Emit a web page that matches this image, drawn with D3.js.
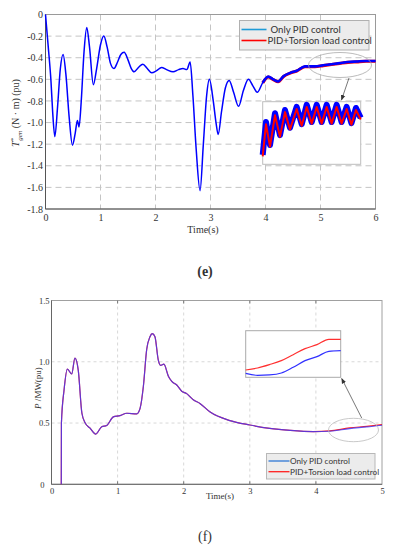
<!DOCTYPE html>
<html>
<head>
<meta charset="utf-8">
<script src="https://cdn.jsdelivr.net/npm/d3@7"></script>
<style>
    body{ margin:0; background:#fff; }
    svg text{ fill:#333; }
</style>
</head>
<body>
<svg id="chart" width="396" height="550"></svg>
<script>
// (e) torque of generator
var tE = [0, 0.05, 0.1, 0.13, 0.17, 0.22, 0.27, 0.32, 0.37, 0.43, 0.49, 0.54, 0.58, 0.61, 0.65, 0.7, 0.75, 0.8, 0.87, 0.93,
          1.0, 1.06, 1.12, 1.18, 1.245, 1.31, 1.37, 1.43, 1.5, 1.56, 1.61, 1.69, 1.77, 1.85, 1.93, 2.02, 2.11, 2.2, 2.32, 2.42,
          2.5, 2.57, 2.63, 2.68, 2.74, 2.81, 2.87, 2.93, 2.98, 3.05, 3.1, 3.14, 3.2, 3.27, 3.34, 3.42, 3.51, 3.6, 3.69, 3.77,
          3.85, 3.95, 4.05, 4.14, 4.23, 4.33, 4.45, 4.57, 4.72, 4.9, 5.05, 5.2, 5.35, 5.5, 5.66, 5.83, 6.0];
var eOnlyPid = [0, -0.30, -0.62, -0.90, -1.13, -0.85, -0.50, -0.37, -0.55, -0.95, -1.21, -1.10, -0.98, -1.04, -0.80, -0.35, -0.12, -0.30, -0.65, -0.50,
          -0.28, -0.20, -0.30, -0.45, -0.50, -0.44, -0.37, -0.35, -0.42, -0.50, -0.53, -0.49, -0.46, -0.50, -0.54, -0.52, -0.49, -0.51, -0.53, -0.51,
          -0.50, -0.51, -0.44, -0.75, -1.25, -1.63, -1.20, -0.75, -0.60, -0.80, -1.00, -1.11, -0.90, -0.68, -0.61, -0.72, -0.85, -0.70, -0.60, -0.66,
          -0.72, -0.63, -0.575, -0.60, -0.62, -0.57, -0.54, -0.52, -0.48, -0.48, -0.47, -0.46, -0.45, -0.44, -0.435, -0.43, -0.43];
var eTorsion = [0, -0.30, -0.62, -0.90, -1.13, -0.85, -0.50, -0.37, -0.55, -0.95, -1.21, -1.10, -0.98, -1.04, -0.80, -0.35, -0.12, -0.30, -0.65, -0.50,
          -0.28, -0.20, -0.30, -0.45, -0.50, -0.44, -0.37, -0.35, -0.42, -0.50, -0.53, -0.49, -0.46, -0.50, -0.54, -0.52, -0.49, -0.51, -0.53, -0.51,
          -0.50, -0.51, -0.44, -0.75, -1.25, -1.63, -1.20, -0.75, -0.60, -0.80, -1.00, -1.11, -0.90, -0.68, -0.61, -0.72, -0.85, -0.70, -0.60, -0.66,
          -0.723, -0.633, -0.578, -0.603, -0.623, -0.573, -0.543, -0.523, -0.483, -0.483, -0.473, -0.463, -0.453, -0.443, -0.438, -0.433, -0.433];
// zoomed window of (e)
var tInsetE = [4.80, 4.837, 4.882, 4.938, 4.994, 5.05, 5.106, 5.181, 5.238, 5.294, 5.35, 5.406, 5.462, 5.518, 5.574, 5.63, 5.686, 5.742, 5.796, 5.847, 5.90];
var insetEOnlyPid = [-0.502, -0.439, -0.483, -0.422, -0.464, -0.416, -0.450, -0.410, -0.443, -0.406, -0.439, -0.406, -0.439, -0.406, -0.439, -0.406, -0.439, -0.410, -0.441, -0.412, -0.431];
var insetETorsion = [-0.505, -0.443, -0.486, -0.426, -0.467, -0.420, -0.453, -0.414, -0.446, -0.410, -0.442, -0.410, -0.442, -0.410, -0.442, -0.410, -0.442, -0.414, -0.444, -0.416, -0.434];
var xTicksE = [0, 1, 2, 3, 4, 5, 6];
var yTicksE = [0, -0.2, -0.4, -0.6, -0.8, -1.0, -1.2, -1.4, -1.6, -1.8];

// (f) power
var tF = [0.148, 0.15, 0.19, 0.24, 0.305, 0.355, 0.405, 0.46, 0.51, 0.58, 0.67, 0.76, 0.835, 0.935, 1.036, 1.14, 1.29, 1.34, 1.39, 1.44,
          1.49, 1.525, 1.565, 1.615, 1.65, 1.70, 1.77, 1.82, 1.895, 1.97, 2.045, 2.145, 2.245, 2.40, 2.70, 3.0, 3.3, 3.61, 3.96, 4.21,
          4.51, 4.77, 5.0];
var fOnlyPid = [0, 0.50, 0.77, 0.94, 0.90, 1.03, 0.93, 0.58, 0.50, 0.46, 0.41, 0.47, 0.48, 0.55, 0.56, 0.58, 0.575, 0.62, 0.80, 1.10,
          1.205, 1.23, 1.205, 1.015, 0.97, 0.98, 0.88, 0.84, 0.81, 0.76, 0.74, 0.69, 0.66, 0.59, 0.52, 0.484, 0.457, 0.44, 0.43, 0.433,
          0.455, 0.468, 0.482];
var fTorsion = [0, 0.50, 0.77, 0.94, 0.90, 1.03, 0.93, 0.58, 0.50, 0.46, 0.41, 0.47, 0.48, 0.55, 0.56, 0.58, 0.575, 0.62, 0.80, 1.10,
          1.205, 1.23, 1.205, 1.015, 0.97, 0.98, 0.88, 0.84, 0.81, 0.76, 0.74, 0.69, 0.66, 0.59, 0.52, 0.484, 0.457, 0.44, 0.43, 0.436,
          0.46, 0.473, 0.487];
var tInsetF = [0, 1, 2, 3, 4, 5, 6, 7, 8];
var insetFOnlyPid = [0.3, 0.15, 0.18, 0.32, 0.75, 1.25, 1.55, 1.95, 2.0];
var insetFTorsion = [0.55, 0.7, 0.95, 1.25, 1.7, 2.15, 2.45, 2.85, 2.85];
var xTicksF = [0, 1, 2, 3, 4, 5];
var yTicksF = [0, 0.5, 1.0, 1.5];

var legendLabels = ["Only PID  control", "PID+Torsion load control"];

var svg = d3.select("#chart");
var defs = svg.append("defs");
defs.append("marker").attr("id", "arr").attr("viewBox", "0 0 10 10").attr("refX", 9).attr("refY", 5)
    .attr("markerWidth", 7).attr("markerHeight", 7).attr("orient", "auto")
    .append("path").attr("d", "M0,1 L10,5 L0,9 z").attr("fill", "#333");

function pairs(t, v){ return t.map(function(d, i){ return [d, v[i]]; }); }
function yFmt(d){ return d === 0 ? "0" : d.toFixed(1); }

// ---------- (e) ----------
var xE = d3.scaleLinear().domain([0, 6]).range([45.5, 375.5]);
var yE = d3.scaleLinear().domain([-1.8, 0]).range([209, 14.5]);
var gE = svg.append("g");

gE.selectAll(".gx").data(xTicksE.slice(1, -1)).enter().append("line")
    .attr("x1", xE).attr("x2", xE).attr("y1", yE(0)).attr("y2", yE(-1.8))
    .attr("stroke", "#c4c4c4").attr("stroke-dasharray", "6,4");
gE.selectAll(".gy").data(yTicksE.slice(1, -1)).enter().append("line")
    .attr("x1", xE(0)).attr("x2", xE(6)).attr("y1", yE).attr("y2", yE)
    .attr("stroke", "#c4c4c4").attr("stroke-dasharray", "6,4");

gE.append("rect").attr("x", xE(0)).attr("y", yE(0)).attr("width", xE(6) - xE(0)).attr("height", yE(-1.8) - yE(0))
    .attr("fill", "none").attr("stroke", "#9a9a9a");
gE.append("path").attr("d", "M" + xE(0) + "," + yE(0) + "V" + yE(-1.8) + "H" + xE(6))
    .attr("fill", "none").attr("stroke", "#555");

var lineE = d3.line().x(function(d){ return xE(d[0]); }).y(function(d){ return yE(d[1]); }).curve(d3.curveMonotoneX);
var redE = pairs(tE, eTorsion), blueE = pairs(tE, eOnlyPid);
gE.append("path").attr("d", lineE(redE.filter(function(d){ return d[0] >= 3.9; })))
    .attr("fill", "none").attr("stroke", "#ff0000").attr("stroke-width", 3.1);
gE.append("path").attr("d", lineE(blueE)).attr("fill", "none").attr("stroke", "#0000ff").attr("stroke-width", 1.5);
gE.append("path").attr("d", lineE(blueE.filter(function(d){ return d[0] >= 3.9; })))
    .attr("fill", "none").attr("stroke", "#0000ff").attr("stroke-width", 2.6);

gE.append("g").attr("transform", "translate(0," + yE(-1.8) + ")")
    .call(d3.axisBottom(xE).tickValues(xTicksE).tickSize(0).tickPadding(5).tickFormat(d3.format("d")))
    .call(function(g){ g.select(".domain").remove(); })
    .selectAll("text").attr("font-family", "Liberation Serif").attr("font-size", 10).attr("fill", "#333");
gE.append("g").attr("transform", "translate(" + xE(0) + ",0)")
    .call(d3.axisLeft(yE).tickValues(yTicksE).tickSize(0).tickPadding(2.5).tickFormat(yFmt))
    .call(function(g){ g.select(".domain").remove(); })
    .selectAll("text").attr("font-family", "Liberation Serif").attr("font-size", 10).attr("fill", "#333");

gE.append("text").attr("x", 203).attr("y", 233).attr("text-anchor", "middle")
    .attr("font-family", "Liberation Serif").attr("font-size", 10).text("Time(s)");
var ylE = gE.append("text").attr("transform", "translate(19,113) rotate(-90)").attr("text-anchor", "middle")
    .attr("font-family", "Liberation Serif").attr("font-size", 10);
ylE.append("tspan").attr("font-style", "italic").text("T");
ylE.append("tspan").attr("font-size", 7).attr("dy", -4).text("*");
ylE.append("tspan").attr("font-size", 7).attr("font-style", "italic").attr("dx", -3).attr("dy", 7).text("gen");
ylE.append("tspan").attr("dy", -3).text("  (N · m) (pu)");

// legend (e)
gE.append("rect").attr("x", 239.5).attr("y", 20.5).attr("width", 129.5).attr("height", 29.5)
    .attr("fill", "#ececec").attr("stroke", "#b0b0b0");
[["#1e9bd7", 241.5, 266.5, 29.5, 270.5], ["#ff0000", 241.5, 266.5, 40.5, 267.5]].forEach(function(r, i){
    gE.append("line").attr("x1", r[1]).attr("x2", r[2]).attr("y1", r[3]).attr("y2", r[3])
        .attr("stroke", r[0]).attr("stroke-width", 1.6);
    gE.append("text").attr("x", r[4]).attr("y", r[3] + 3.5).attr("font-family", "Lato").attr("font-size", 9.6)
        .attr("fill", "#222").text(legendLabels[i]);
});

// zoom ellipse + inset (e)
gE.append("ellipse").attr("cx", 340).attr("cy", 65).attr("rx", 31.5).attr("ry", 12.5)
    .attr("fill", "none").attr("stroke", "#aaa").attr("stroke-width", 0.8);
gE.append("line").attr("x1", 349).attr("y1", 78).attr("x2", 341.5).attr("y2", 100)
    .attr("stroke", "#555").attr("stroke-width", 0.8).attr("marker-end", "url(#arr)");
var ixE = d3.scaleLinear().domain([4.8, 5.9]).range([262.7, 360.7]);
var iyE = d3.scaleLinear().domain([-0.52, -0.40]).range([164.3, 101.7]);
gE.append("rect").attr("x", 262.7).attr("y", 101.7).attr("width", 98).attr("height", 62.6)
    .attr("fill", "#fff").attr("stroke", "#bdbdbd");
var insetLineE = d3.line().x(function(d){ return ixE(d[0]); }).y(function(d){ return iyE(d[1]); });
gE.append("path").attr("d", insetLineE(pairs(tInsetE, insetEOnlyPid))).attr("fill", "none")
    .attr("stroke", "#0000ff").attr("stroke-width", 6).attr("stroke-linejoin", "round");
gE.append("path").attr("d", insetLineE(pairs(tInsetE, insetETorsion))).attr("fill", "none")
    .attr("stroke", "#ff0000").attr("stroke-width", 2).attr("stroke-linejoin", "round");

gE.append("text").attr("x", 205).attr("y", 276).attr("text-anchor", "middle")
    .attr("font-family", "Liberation Serif").attr("font-weight", "bold").attr("font-size", 14).attr("fill", "#222").text("(e)");

// ---------- (f) ----------
var xF = d3.scaleLinear().domain([0, 5]).range([51.5, 382]);
var yF = d3.scaleLinear().domain([0, 1.5]).range([484.3, 300.5]);
var gF = svg.append("g");

gF.selectAll(".gx").data(xTicksF.slice(1, -1)).enter().append("line")
    .attr("x1", xF).attr("x2", xF).attr("y1", yF(1.5)).attr("y2", yF(0))
    .attr("stroke", "#d8d8d8").attr("stroke-dasharray", "3,3");
gF.selectAll(".gy").data(yTicksF.slice(1, -1)).enter().append("line")
    .attr("x1", xF(0)).attr("x2", xF(5)).attr("y1", yF).attr("y2", yF)
    .attr("stroke", "#d8d8d8").attr("stroke-dasharray", "3,3");
gF.append("rect").attr("x", xF(0)).attr("y", yF(1.5)).attr("width", xF(5) - xF(0)).attr("height", yF(0) - yF(1.5))
    .attr("fill", "none").attr("stroke", "#a0a0a0");
gF.append("path").attr("d", "M" + xF(0) + "," + yF(1.5) + "V" + yF(0) + "H" + xF(5))
    .attr("fill", "none").attr("stroke", "#666");
gF.selectAll(".tk").data(xTicksF.slice(1, -1)).enter().append("path")
    .attr("d", function(d){ return "M" + xF(d) + "," + yF(1.5) + "v3M" + xF(d) + "," + yF(0) + "v-3"; })
    .attr("stroke", "#777");

var lineF = d3.line().x(function(d){ return xF(d[0]); }).y(function(d){ return yF(d[1]); }).curve(d3.curveMonotoneX);
gF.append("path").attr("d", lineF(pairs(tF, fTorsion))).attr("fill", "none").attr("stroke", "#ff2020").attr("stroke-width", 1.2);
gF.append("path").attr("d", lineF(pairs(tF, fOnlyPid))).attr("fill", "none").attr("stroke", "#3a3aff")
    .attr("stroke-opacity", 0.8).attr("stroke-width", 1.2);

gF.append("g").attr("transform", "translate(0," + yF(0) + ")")
    .call(d3.axisBottom(xF).tickValues(xTicksF).tickSize(0).tickPadding(4).tickFormat(d3.format("d")))
    .call(function(g){ g.select(".domain").remove(); })
    .selectAll("text").attr("font-family", "Liberation Serif").attr("font-size", 8.5).attr("fill", "#444");
gF.append("g").attr("transform", "translate(" + xF(0) + ",0)")
    .call(d3.axisLeft(yF).tickValues(yTicksF).tickSize(0).tickPadding(2).tickFormat(yFmt))
    .call(function(g){ g.select(".domain").remove(); })
    .selectAll("text").attr("font-family", "Liberation Serif").attr("font-size", 8.5).attr("fill", "#444")
    .attr("dx", function(d){ return d === 0 ? -5 : 0; });

gF.append("text").attr("x", 220).attr("y", 498.5).attr("text-anchor", "middle")
    .attr("font-family", "Liberation Serif").attr("font-size", 9).attr("fill", "#444").text("Time(s)");
var ylF = gF.append("text").attr("transform", "translate(41,388) rotate(-90)").attr("text-anchor", "middle")
    .attr("font-family", "Liberation Serif").attr("font-size", 9).attr("fill", "#444");
ylF.append("tspan").attr("font-style", "italic").text("P");
ylF.append("tspan").text(" /MW(pu)");

// legend (f)
gF.append("rect").attr("x", 266.5).attr("y", 453.5).attr("width", 108.5).attr("height", 25.5)
    .attr("fill", "#ececec").attr("stroke", "#b8b8b8");
[["#2f78d6", 461], ["#ff2020", 471.7]].forEach(function(r, i){
    gF.append("line").attr("x1", 268.5).attr("x2", 289.5).attr("y1", r[1]).attr("y2", r[1])
        .attr("stroke", r[0]).attr("stroke-width", 1.3);
    gF.append("text").attr("x", 290).attr("y", r[1] + 3).attr("font-family", "Lato").attr("font-size", 8.2)
        .attr("fill", "#222").text(legendLabels[i]);
});

// zoom ellipse + inset (f)
gF.append("ellipse").attr("cx", 353.5).attr("cy", 430).attr("rx", 25).attr("ry", 11.7)
    .attr("fill", "none").attr("stroke", "#bbb").attr("stroke-width", 0.8);
gF.append("line").attr("x1", 361.7).attr("y1", 418).attr("x2", 341.7).attr("y2", 378.5)
    .attr("stroke", "#555").attr("stroke-width", 0.8).attr("marker-end", "url(#arr)");
var ixF = d3.scaleLinear().domain([0, 8]).range([245.7, 340.7]);
var iyF = d3.scaleLinear().domain([0, 3.5]).range([377.3, 330.7]);
gF.append("rect").attr("x", 245.7).attr("y", 330.7).attr("width", 95).attr("height", 46.6)
    .attr("fill", "#fff").attr("stroke", "#aaa");
var insetLineF = d3.line().x(function(d){ return ixF(d[0]); }).y(function(d){ return iyF(d[1]); }).curve(d3.curveMonotoneX);
gF.append("path").attr("d", insetLineF(pairs(tInsetF, insetFTorsion))).attr("fill", "none")
    .attr("stroke", "#ff3030").attr("stroke-width", 1.2);
gF.append("path").attr("d", insetLineF(pairs(tInsetF, insetFOnlyPid))).attr("fill", "none")
    .attr("stroke", "#3030ff").attr("stroke-width", 1.2);

gF.append("text").attr("x", 205).attr("y", 541).attr("text-anchor", "middle")
    .attr("font-family", "Liberation Serif").attr("font-size", 14).attr("fill", "#222").text("(f)");
</script>
</body>
</html>
